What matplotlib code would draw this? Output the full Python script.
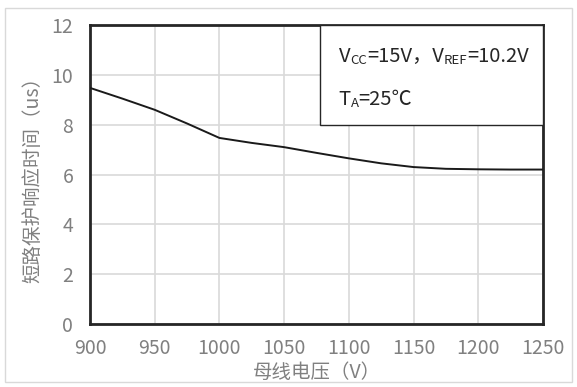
import matplotlib
matplotlib.use("Agg")
import matplotlib.pyplot as plt
from matplotlib.patches import Rectangle

plt.rcParams['font.family'] = ['Noto Sans CJK SC', 'DejaVu Sans']

# Bus voltage (V) and short-circuit protection response time (us)
voltage = [900, 925, 950, 975, 1000, 1025, 1050, 1075, 1100, 1125, 1150, 1175, 1200, 1225, 1250]
resp_time = [9.48, 9.05, 8.6, 8.05, 7.47, 7.27, 7.1, 6.87, 6.65, 6.45, 6.3, 6.23, 6.21, 6.2, 6.2]

x_ticks = [900, 950, 1000, 1050, 1100, 1150, 1200, 1250]
y_ticks = [0, 2, 4, 6, 8, 10, 12]

x_label = "母线电压（V）"
y_label = "短路保护响应时间（us）"

grey = "#808080"
dark = "#262626"

fig = plt.figure(figsize=(5.77, 3.87), dpi=100)
ax = fig.add_axes([0.156, 0.163, 0.785, 0.772])

ax.plot(voltage, resp_time, color="#1a1a1a", lw=1.4, zorder=3)

ax.set_xlim(900, 1250)
ax.set_ylim(0, 12)
ax.set_xticks(x_ticks)
ax.set_yticks(y_ticks)
ax.grid(True, color="#d9d9d9", lw=1.2)
ax.set_axisbelow(True)
ax.tick_params(length=0, labelsize=14, labelcolor=grey)
ax.tick_params(axis="y", pad=12)
ax.tick_params(axis="x", pad=10)
for s in ax.spines.values():
    s.set_linewidth(2)
    s.set_color(dark)

ax.set_xlabel(x_label, fontsize=14, color=grey, labelpad=2)
ax.set_ylabel(y_label, fontsize=14, color=grey, labelpad=6)

# condition box in upper right
box = Rectangle((1078, 8), 172, 4, facecolor="white", edgecolor=dark, lw=1.0, zorder=4)
ax.add_patch(box)

def chain(pieces, x, y):
    prev = None
    for txt, size in pieces:
        if prev is None:
            prev = ax.text(x, y, txt, fontsize=size, color=dark, va="bottom", zorder=5)
        else:
            prev = ax.annotate(txt, xy=(1, 0), xycoords=prev, fontsize=size,
                               color=dark, va="bottom", ha="left", zorder=5)
    return prev

chain([("V", 14.5), ("CC", 9.5), ("=15V，V", 14.5), ("REF", 9.5), ("=10.2V", 14.5)], 1092, 10.3)
chain([("T", 14.5), ("A", 9.5), ("=25℃", 14.5)], 1092, 8.6)

# light frame around the figure
fig.patches.append(Rectangle((0.009, 0.013), 0.982, 0.966, transform=fig.transFigure,
                             fill=False, edgecolor="#d9d9d9", lw=1.0))

fig.savefig("out.png", dpi=100)
